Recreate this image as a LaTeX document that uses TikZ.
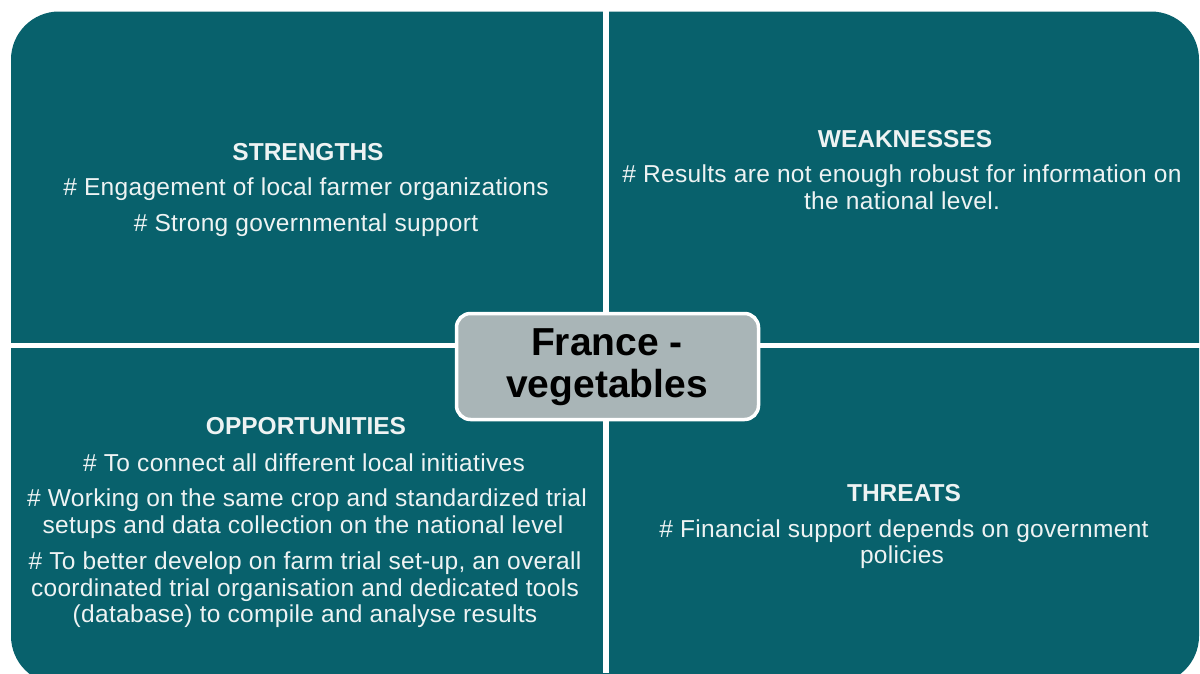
\documentclass[tikz,border=0pt]{standalone}
\usepackage{fontspec}
\setmainfont{Liberation Sans}
\definecolor{teal1}{HTML}{08616C}
\definecolor{boxgray}{HTML}{A9B5B7}
\definecolor{txt}{HTML}{EEF3F3}
\begin{document}
\begin{tikzpicture}[x=1pt,y=-1pt,
  line/.style={anchor=base,inner sep=0pt,text=txt,font=\fontsize{24.5}{27}\selectfont\addfontfeature{LetterSpace=1.3}},
  head/.style={anchor=base,inner sep=0pt,text=txt,font=\fontsize{24.5}{27}\selectfont\bfseries}]
\useasboundingbox (0,0) rectangle (1200,673);
\begin{scope}
\clip (0,0) rectangle (1200,673);
\fill[teal1,rounded corners=48pt] (11,11.5) rectangle (1199,684);
\end{scope}
\fill[white] (603.3,0) rectangle (609.3,673);
\fill[white] (0,342.7) rectangle (1200,347.7);
% center box
\node[draw=white,line width=3.5pt,fill=boxgray,rounded corners=14pt,minimum width=302pt,minimum height=106pt,inner sep=0pt] (center) at (607.5,366.5) {};
\node[anchor=base,inner sep=0pt,font=\fontsize{39}{42}\selectfont\bfseries] (c1) at (607,355) {France -};
\node[anchor=base,inner sep=0pt,font=\fontsize{39}{42}\selectfont\bfseries] (c2) at (607,397) {vegetables};
% strengths
\node[head] (s0) at (308,160) {STRENGTHS};
\node[line] (s1) at (306,195) {\# Engagement of local farmer organizations};
\node[line] (s2) at (306,231) {\# Strong governmental support};
% weaknesses
\node[head] (w0) at (905,147) {WEAKNESSES};
\node[line] (w1) at (902,182) {\# Results are not enough robust for information on};
\node[line] (w2) at (902,209) {the national level.};
% opportunities
\node[head] (o0) at (306,434) {OPPORTUNITIES};
\node[line] (o1) at (304,471) {\# To connect all different local initiatives};
\node[line] (o2) at (307,506) {\# Working on the same crop and standardized trial};
\node[line] (o3) at (303,533) {setups and data collection on the national level};
\node[line] (o4) at (305,569) {\# To better develop on farm trial set-up, an overall};
\node[line] (o5) at (305,596) {coordinated trial organisation and dedicated tools};
\node[line] (o6) at (305,622) {(database) to compile and analyse results};
% threats
\node[head] (t0) at (904,501) {THREATS};
\node[line] (t1) at (904,537) {\# Financial support depends on government};
\node[line] (t2) at (902,563) {policies};
\end{tikzpicture}
\end{document}
